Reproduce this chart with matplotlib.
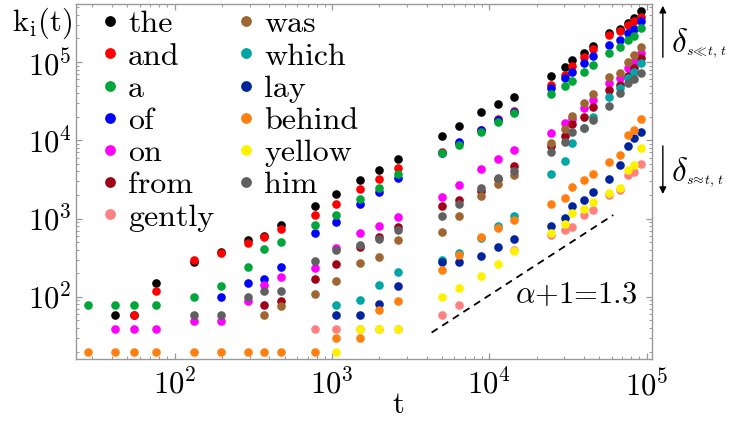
import numpy as np
import matplotlib
matplotlib.use('Agg')
import matplotlib.pyplot as plt
from matplotlib.ticker import LogLocator, NullFormatter

plt.rcParams['font.family'] = 'cmr10'
plt.rcParams['mathtext.fontset'] = 'cm'
plt.rcParams['axes.formatter.use_mathtext'] = True

nan = np.nan

# time steps t (x values)
t = [28, 42, 55, 76, 133, 196, 291, 370, 474,
     780, 1060, 1510, 1990, 2620,
     5030, 6420, 8820, 11400, 14400,
     24600, 30300, 33700, 40000, 45900, 57900, 67700, 75800, 83200, 92100]

# k_i(t) for each word
k_the = [nan, 58, 58, 150, 281, 371, 532, 604, 829,
         1440, 2060, 3110, 4180, 5810,
         11300, 15400, 23200, 28800, 36000,
         66300, 87000, 106000, 131000, 161000, 232000, 262000, 317000, 361000, 453000]
k_and = [nan, nan, 58, 120, 296, 364, 483, 581, 730,
         1110, 1540, 2390, 3170, 4470,
         7080, 9230, 13600, 18700, 24000,
         50900, 68200, 88800, 117000, 145000, 222000, 249000, 297000, 337000, 378000]
k_a = [78, 78, 78, 78, 99, 139, 239, 408, 498,
       829, 1110, 1780, 2480, 3680,
       6940, 8830, 12800, 17000, 22000,
       39000, 49400, 57100, 75200, 91500, 131000, 157000, 191000, 215000, 269000]
k_of = [nan, nan, nan, nan, nan, 99, 150, 171, 239,
        659, 913, 1540, 2160, 3330,
        6880, 9510, 13400, 18100, 23200,
        46100, 63000, 75200, 96200, 119000, 165000, 191000, 232000, 262000, 334000]
k_on = [nan, 39, 39, 39, 49, 49, 89, 142, 181,
        232, 418, 649, 812, 1060,
        1910, 2690, 4260, 5710, 7520,
        12300, 16700, 18700, 25700, 32600, 53400, 61900, 83000, 101000, 131000]
k_from = [nan, nan, nan, nan, nan, nan, nan, 78, 89,
          170, 261, 438, 586, 788,
          1460, 1730, 2250, 3170, 4700,
          8460, 11300, 16000, 20000, 26900, 43900, 50900, 66300, 83000, 111000]
k_gently = [nan, nan, nan, nan, nan, nan, nan, nan, nan,
            39, 39, 39, 39, 39,
            58, 78, nan, nan, 396,
            617, 716, 774, 1110, 1280, 2000, 2320, 3600, 3960, 4980]
k_was = [nan, nan, nan, nan, nan, nan, nan, 58, 77,
         109, 160, 273, 320, 532,
         674, 1080, 1960, 2750, 3600,
         9320, 13800, 20500, 29700, 39000, 63700, 71700, 99100, 123000, 157000]
k_which = [nan, nan, nan, nan, nan, nan, nan, nan, nan,
           nan, 78, 91, 142, 210,
           296, 367, 560, 805, 1090,
           3710, 5440, 9320, 14200, 20000, 35400, 46100, 62400, 75200, 96200]
k_lay = [nan, nan, nan, nan, nan, nan, nan, nan, nan,
         nan, 59, 59, 81, 139,
         281, 277, 333, 438, 544,
         812, 1010, 1460, 1730, 2200, 3200, 4830, 8520, 10600, 12800]
k_behind = [20, 20, 20, 20, 20, 20, 20, 20, 20,
            20, 30, 30, 69, 89,
            220, 343, 586, 753, 960,
            1540, 1840, 2550, 3110, 3710, 5320, 6490, 11700, 13600, 18600]
k_yellow = [nan, nan, nan, nan, nan, nan, nan, nan, nan,
            nan, 20, 39, 39, 39,
            99, 128, 187, 263, 386,
            659, 853, 1170, 1310, 1640, 2140, 2440, 4180, 4830, 7900]
k_him = [nan, nan, nan, nan, 59, 59, 99, 120, 120,
         290, 396, 460, 544, 716,
         1090, 1530, 2480, 3260, 4050,
         7140, 9600, 12800, 14400, 18100, 27500, 40500, 53400, 60100, 73000]

words = ['the', 'and', 'a', 'of', 'on', 'from', 'gently',
         'was', 'which', 'lay', 'behind', 'yellow', 'him']
values = [k_the, k_and, k_a, k_of, k_on, k_from, k_gently,
          k_was, k_which, k_lay, k_behind, k_yellow, k_him]
colors = ['#000000', '#ff0000', '#00a638', '#0000ff', '#ff00ff', '#a00018', '#ff8080',
          '#9e6630', '#00a5a5', '#00249c', '#ff8010', '#fff200', '#606060']
draw_order = [0, 1, 3, 2, 4, 5, 6, 7, 8, 9, 10, 11, 12]

fig = plt.figure(figsize=(7.3, 4.26), dpi=100)
ax = fig.add_axes([0.1041, 0.1573, 0.7886, 0.8333])

lines = {}
for i in draw_order:
    ln, = ax.plot(t, values[i], 'o', ms=6.2, mec='none', color=colors[i])
    lines[i] = ln

# guide line with slope alpha+1 = 1.3
gx = np.array([4300, 61400])
ax.plot(gx, 35 * (gx / 4300) ** 1.3, '--', color='k', lw=1.3, dashes=(4, 3))
ax.text(0.763, 0.18, r'$\alpha$+1=1.3', transform=ax.transAxes, fontsize=22,
        ha='left', va='center')

ax.set_xscale('log')
ax.set_yscale('log')
ax.set_xlim(23.6, 107800)
ax.set_ylim(16.1, 550000)

for axis in (ax.xaxis, ax.yaxis):
    axis.set_major_locator(LogLocator(base=10, numticks=10))
    axis.set_minor_locator(LogLocator(base=10, subs=np.arange(2, 10), numticks=20))
    axis.set_minor_formatter(NullFormatter())
ax.tick_params(which='both', direction='in', top=True, right=True, color='#999999',
               labelsize=22)
ax.tick_params(which='major', length=4.5, width=0.9)
ax.tick_params(which='minor', length=2.5, width=0.7)
ax.tick_params(axis='x', pad=7)
ax.tick_params(axis='y', pad=3)
for sp in ax.spines.values():
    sp.set_color('#999999')
    sp.set_linewidth(1)

leg = ax.legend([lines[i] for i in range(13)], words, ncol=2, loc='upper left',
                bbox_to_anchor=(0.046, 0.983), frameon=False, fontsize=23,
                handlelength=0.5, handletextpad=0.3, columnspacing=0.76,
                labelspacing=0.12, borderpad=0, borderaxespad=0, markerscale=1.25)

fig.text(12 / 730, 1 - 23 / 426, r'$\mathrm{k_i(t)}$', fontsize=22, ha='left', va='center')
fig.text(398 / 730, 1 - 405 / 426, 't', fontsize=22, ha='center', va='center')

# arrows and delta labels right of the frame
ax.annotate('', xy=(0.908, 0.993), xytext=(0.908, 0.859), xycoords='figure fraction',
            arrowprops=dict(arrowstyle='-|>', color='k', lw=1, mutation_scale=10))
ax.annotate('', xy=(0.908, 0.538), xytext=(0.908, 0.664), xycoords='figure fraction',
            arrowprops=dict(arrowstyle='-|>', color='k', lw=1, mutation_scale=10))
for ytop, sub in [(43, r'$s\!\ll\!t,\,t$'), (172, r'$s\!\approx\!t,\,t$')]:
    fig.text(671 / 730, 1 - ytop / 426, r'$\delta$', fontsize=24, ha='left', va='center')
    fig.text(686 / 730, 1 - (ytop + 9) / 426, sub, fontsize=10, ha='left', va='center')

fig.savefig('out.png', dpi=100)
